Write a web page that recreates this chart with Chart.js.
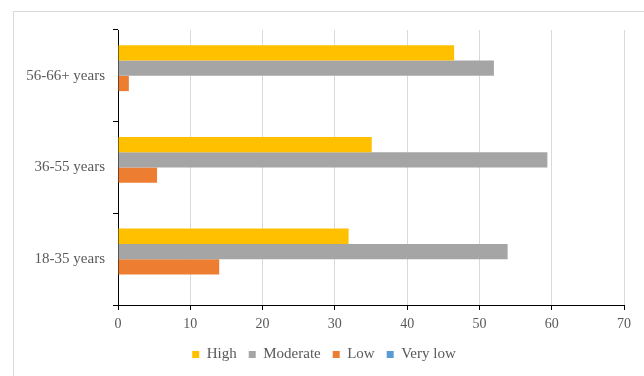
<!DOCTYPE html>
<html>
<head>
<meta charset="utf-8">
<script src="https://cdn.jsdelivr.net/npm/chart.js@4"></script>
<style>
    html, body { margin: 0; padding: 0; background: #fff; }
    #wrap { position: relative; width: 644px; height: 376px; overflow: hidden; }
    #frame { position: absolute; left: 13px; top: 11px; width: 700px; height: 500px; border: 1px solid #d9d9d9; }
    #BarChart { position: absolute; left: 0; top: 0; }
</style>
</head>
<body>
<div id="wrap">
    <div id="frame"></div>
    <canvas id="BarChart" width="644" height="376"></canvas>
</div>
<script>
var ageGroups = ["56-66+ years", "36-55 years", "18-35 years"];
var high = [46.5, 35.1, 31.9];
var moderate = [52.0, 59.4, 53.9];
var low = [1.5, 5.4, 14.0];
var veryLow = [0, 0, 0];
var xTicks = [0, 10, 20, 30, 40, 50, 60, 70];

document.addEventListener("DOMContentLoaded", function() {
    var c = document.getElementById("BarChart");

    var textColor = "#595959";
    var serif = "'Liberation Serif', 'Times New Roman', serif";
    Chart.defaults.font.family = serif;

    var data = {
        labels: ageGroups,
        datasets: [
            { label: "High", data: high, backgroundColor: "#FFC000" },
            { label: "Moderate", data: moderate, backgroundColor: "#A5A5A5" },
            { label: "Low", data: low, backgroundColor: "#ED7D31" },
            { label: "Very low", data: veryLow, backgroundColor: "#5B9BD5" }
        ]
    };

    new Chart(c, {
        type: "bar",
        data: data,
        options: {
            indexAxis: "y",
            responsive: false,
            animation: false,
            datasets: {
                bar: { categoryPercentage: 0.667, barPercentage: 1.0, borderWidth: 0 }
            },
            layout: { padding: { top: 30, right: 20, left: 24, bottom: 4 } },
            scales: {
                x: {
                    min: 0,
                    max: 70,
                    afterBuildTicks: function(scale) {
                        scale.ticks = xTicks.map(function(v) { return { value: v }; });
                    },
                    afterFit: function(scale) { scale.height = 30; },
                    grid: { color: "#d9d9d9", tickColor: "#000", tickLength: 5, lineWidth: 1 },
                    border: { color: "#000", width: 1 },
                    ticks: { color: textColor, padding: 6, font: { family: serif, size: 14 } }
                },
                y: {
                    afterFit: function(scale) { scale.width = 94; },
                    grid: { drawOnChartArea: false, tickColor: "#000", tickLength: 5, offset: true },
                    border: { color: "#000", width: 1 },
                    ticks: { color: textColor, padding: 8, font: { family: serif, size: 15 } }
                }
            },
            plugins: {
                legend: {
                    position: "bottom",
                    labels: {
                        boxWidth: 7,
                        boxHeight: 7,
                        padding: 12,
                        color: textColor,
                        font: { family: serif, size: 15 }
                    }
                },
                tooltip: { enabled: false }
            }
        }
    });
});
</script>
</body>
</html>
